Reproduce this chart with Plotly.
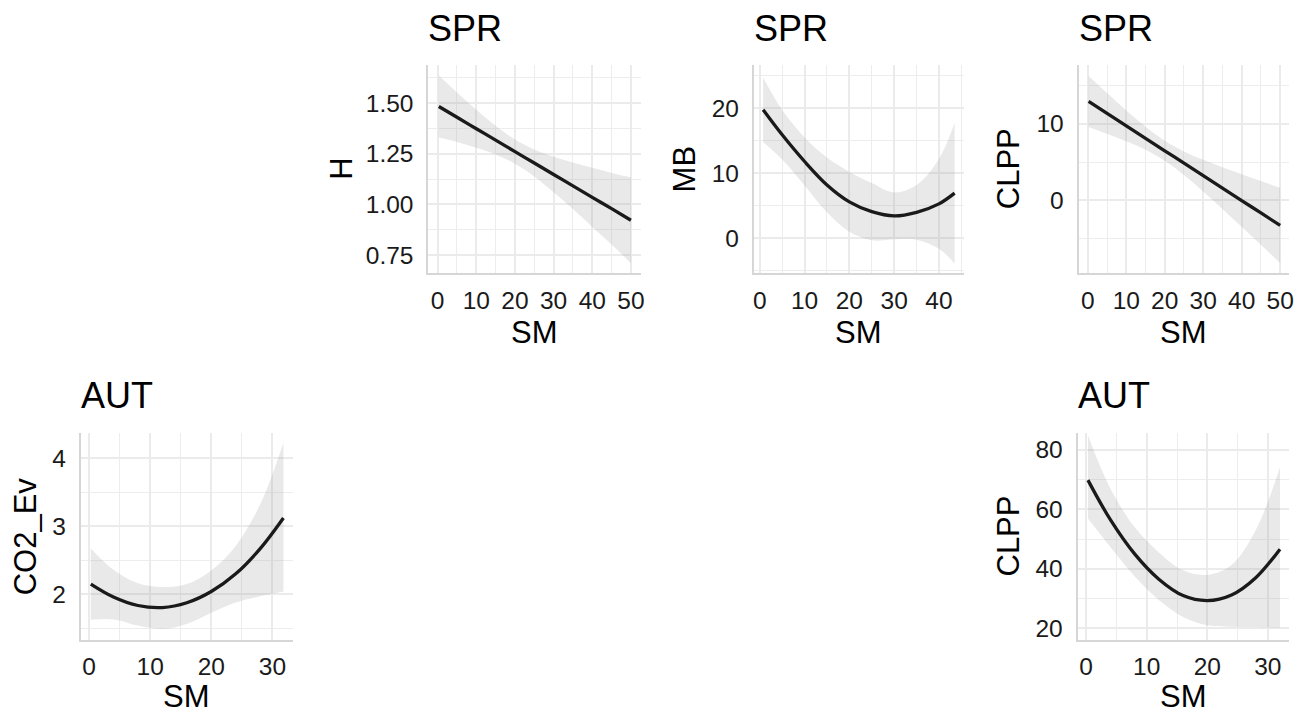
import plotly.graph_objects as go

# ---------------- data ----------------
# SPR - H
h_sm = [0.3, 5, 10, 15, 20, 25, 30, 35, 40, 45, 50]
h_fit = [1.484, 1.431, 1.374, 1.318, 1.261, 1.205, 1.148, 1.092, 1.035, 0.979, 0.922]
h_lo = [1.331, 1.309, 1.280, 1.247, 1.201, 1.138, 1.060, 0.977, 0.889, 0.802, 0.710]
h_hi = [1.637, 1.553, 1.468, 1.389, 1.321, 1.272, 1.236, 1.207, 1.181, 1.156, 1.134]

# SPR - MB
mb_sm = [0.74, 5, 10, 15, 20, 25, 30, 35, 40, 43.5]
mb_fit = [19.75, 15.9, 11.8, 8.2, 5.6, 4.1, 3.45, 4.0, 5.3, 6.95]
mb_lo = [14.8, 12.1, 8.1, 4.0, 1.0, -0.3, -0.15, -0.2, -1.6, -3.85]
mb_hi = [24.7, 19.7, 15.5, 12.4, 10.2, 8.5, 7.05, 8.2, 12.2, 17.75]

# SPR - CLPP
cs_sm = [0.2, 5, 10, 15, 20, 25, 30, 35, 40, 45, 50]
cs_fit = [12.89, 11.33, 9.71, 8.09, 6.47, 4.85, 3.23, 1.61, -0.01, -1.63, -3.25]
cs_lo = [9.57, 8.68, 7.71, 6.59, 5.17, 3.31, 1.17, -1.10, -3.43, -5.78, -8.15]
cs_hi = [16.21, 13.98, 11.71, 9.59, 7.77, 6.39, 5.29, 4.32, 3.41, 2.52, 1.65]

# AUT - CO2_Ev
co2_sm = [0.3, 4, 8, 12, 16, 20, 24, 28, 31.8]
co2_fit = [2.15, 1.96, 1.835, 1.805, 1.875, 2.04, 2.30, 2.67, 3.12]
co2_lo = [1.624, 1.63, 1.54, 1.49, 1.565, 1.73, 1.88, 1.97, 2.04]
co2_hi = [2.673, 2.36, 2.16, 2.105, 2.15, 2.35, 2.71, 3.32, 4.225]

# AUT - CLPP
ca_sm = [0.3, 4, 8, 12, 16, 20, 24, 28, 32]
ca_fit = [69.8, 56.5, 45.0, 36.5, 31.0, 29.3, 31.2, 37.0, 46.6]
ca_lo = [56.9, 47.3, 37.5, 29.5, 23.8, 21.0, 20.5, 20.4, 20.2]
ca_hi = [84.8, 67.0, 54.0, 45.5, 39.5, 38.0, 41.3, 53.0, 74.1]

season_titles = ["SPR", "SPR", "SPR", "AUT", "AUT"]
y_titles = ["H", "MB", "CLPP", "CO2_Ev", "CLPP"]
x_title = "SM"

# ---------------- layout helpers ----------------
OFF = 8                      # page body margin of the browser
W, H = 1314 - OFF, 714 - OFF
FONT = "Liberation Sans, Arial, sans-serif"
TXT = "#1a1a1a"


def fx(px):
    return (px - OFF) / W


def fy(py):
    return 1 - (py - OFF) / H


panels = [
    dict(sm=h_sm, fit=h_fit, lo=h_lo, hi=h_hi, box=(429, 642, 65, 274),
         xr=[-2.4, 52.5], yr=[0.66, 1.69], xd=10, yd=0.25, yfmt=".2f", ytx=341),
    dict(sm=mb_sm, fit=mb_fit, lo=mb_lo, hi=mb_hi, box=(755.7, 966.7, 65, 274),
         xr=[-1.33, 45.6], yr=[-5.36, 26.65], xd=10, yd=10, yfmt="", ytx=686),
    dict(sm=cs_sm, fit=cs_fit, lo=cs_lo, hi=cs_hi, box=(1081.7, 1293.3, 65, 274),
         xr=[-2.4, 52.4], yr=[-9.48, 17.66], xd=10, yd=10, yfmt="", ytx=1011),
    dict(sm=co2_sm, fit=co2_fit, lo=co2_lo, hi=co2_hi, box=(80, 292.7, 434, 641.7),
         xr=[-1.35, 33.3], yr=[1.33, 4.37], xd=10, yd=1, yfmt="", ytx=24),
    dict(sm=ca_sm, fit=ca_fit, lo=ca_lo, hi=ca_hi, box=(1080.7, 1293.3, 434, 641.7),
         xr=[-1.41, 33.55], yr=[16.1, 85.7], xd=10, yd=20, yfmt="", ytx=1011),
]

fig = go.Figure()
annotations = []
for i, p in enumerate(panels):
    n = "" if i == 0 else str(i + 1)
    xa, ya = "x" + n, "y" + n
    x0, x1, y0, y1 = p["box"]
    top_row = y0 < 100
    # ribbon
    fig.add_trace(go.Scatter(x=p["sm"], y=p["lo"], mode="lines", xaxis=xa, yaxis=ya,
                             line=dict(width=0, shape="spline", color="rgba(0,0,0,0)"),
                             hoverinfo="skip", showlegend=False))
    fig.add_trace(go.Scatter(x=p["sm"], y=p["hi"], mode="lines", xaxis=xa, yaxis=ya,
                             fill="tonexty", fillcolor="rgba(153,153,153,0.22)",
                             line=dict(width=0, shape="spline", color="rgba(0,0,0,0)"),
                             hoverinfo="skip", showlegend=False))
    # fitted line
    fig.add_trace(go.Scatter(x=p["sm"], y=p["fit"], mode="lines", xaxis=xa, yaxis=ya,
                             line=dict(width=3.3, color=TXT, shape="spline"),
                             showlegend=False))
    common = dict(showgrid=True, gridcolor="#ebebeb", gridwidth=2, zeroline=False,
                  showline=True, linecolor="#d6d6d6", linewidth=2, ticks="",
                  tickfont=dict(family=FONT, size=24.5, color=TXT))
    fig.layout["xaxis" + n] = dict(common, domain=[fx(x0), fx(x1)], range=p["xr"],
                                   dtick=p["xd"], tick0=0, anchor=ya,
                                   ticklabelstandoff=4,
                                   minor=dict(dtick=p["xd"] / 2, tick0=0, showgrid=True,
                                              gridcolor="#ededed", gridwidth=1.2))
    fig.layout["yaxis" + n] = dict(common, domain=[fy(y1), fy(y0)], range=p["yr"],
                                   dtick=p["yd"], tick0=0, anchor=xa, tickformat=p["yfmt"],
                                   ticklabelstandoff=8,
                                   minor=dict(dtick=p["yd"] / 2, tick0=0, showgrid=True,
                                              gridcolor="#ededed", gridwidth=1.2))
    # panel title
    annotations.append(dict(text=season_titles[i], xref="paper", yref="paper",
                            x=fx(x0 - 2), y=fy(29 if top_row else 396.5),
                            xanchor="left", yanchor="middle", showarrow=False,
                            font=dict(family=FONT, size=36, color="#000000")))
    # x-axis title
    annotations.append(dict(text=x_title, xref="paper", yref="paper",
                            x=fx((x0 + x1) / 2), y=fy(333 if top_row else 698),
                            xanchor="center", yanchor="middle", showarrow=False,
                            borderpad=0,
                            font=dict(family=FONT, size=31, color="#000000")))
    # y-axis title
    annotations.append(dict(text=y_titles[i], xref="paper", yref="paper",
                            x=fx(p["ytx"]), y=fy((y0 + y1) / 2), textangle=-90,
                            xanchor="center", yanchor="middle", showarrow=False,
                            font=dict(family=FONT, size=31, color="#000000")))

fig.update_layout(width=W, height=H, margin=dict(l=0, r=0, t=0, b=0),
                  paper_bgcolor="white", plot_bgcolor="white",
                  showlegend=False, annotations=annotations,
                  font=dict(family=FONT, color=TXT))
fig.write_html("out.html")
